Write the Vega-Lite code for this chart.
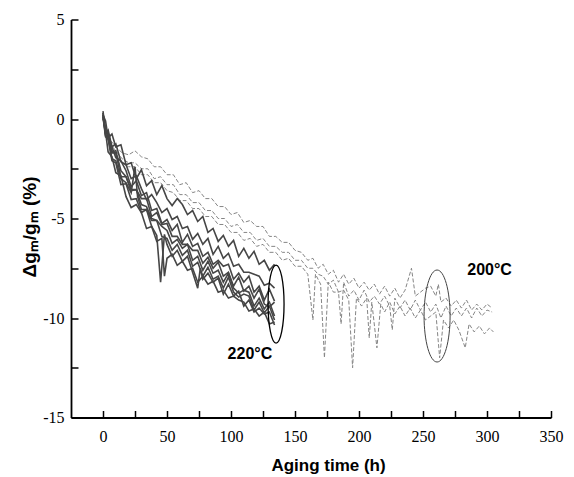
{
 "$schema": "https://vega.github.io/schema/vega-lite/v6.json",
 "width": 480, "height": 398,
 "autosize": {"type": "none"},
 "padding": {"left": 71, "top": 19.5, "right": 23, "bottom": 59.5},
 "background": "white",
 "config": {"view": {"stroke": null}},
 "datasets": {
  "hot": [
   {"s":1,"t":0,"v":0.2},{"s":1,"t":2,"v":-0.1},{"s":1,"t":4,"v":-0.95},{"s":1,"t":7,"v":-0.75},{"s":1,"t":10,"v":-1.4},{"s":1,"t":14,"v":-1.3},{"s":1,"t":18,"v":-2.3},{"s":1,"t":22,"v":-2.2},{"s":1,"t":26,"v":-3.0},{"s":1,"t":30,"v":-2.55},{"s":1,"t":34,"v":-3.35},{"s":1,"t":38,"v":-3.1},{"s":1,"t":42,"v":-3.8},{"s":1,"t":46,"v":-3.35},{"s":1,"t":50,"v":-4.0},{"s":1,"t":54,"v":-4.35},{"s":1,"t":58,"v":-4.0},{"s":1,"t":62,"v":-4.3},{"s":1,"t":66,"v":-4.8},{"s":1,"t":70,"v":-4.6},{"s":1,"t":74,"v":-5.15},{"s":1,"t":78,"v":-4.9},{"s":1,"t":82,"v":-5.7},{"s":1,"t":86,"v":-5.5},{"s":1,"t":90,"v":-6.15},{"s":1,"t":94,"v":-5.85},{"s":1,"t":98,"v":-6.4},{"s":1,"t":102,"v":-6.1},{"s":1,"t":106,"v":-6.9},{"s":1,"t":110,"v":-6.5},{"s":1,"t":114,"v":-7.0},{"s":1,"t":118,"v":-6.65},{"s":1,"t":122,"v":-7.3},{"s":1,"t":126,"v":-7.1},{"s":1,"t":130,"v":-7.6},{"s":1,"t":134,"v":-7.3},
   {"s":2,"t":0,"v":0.3},{"s":2,"t":2,"v":-0.6},{"s":2,"t":4,"v":-0.7},{"s":2,"t":7,"v":-1.4},{"s":2,"t":10,"v":-1.25},{"s":2,"t":14,"v":-2.15},{"s":2,"t":18,"v":-2.3},{"s":2,"t":22,"v":-3.0},{"s":2,"t":26,"v":-2.85},{"s":2,"t":30,"v":-3.5},{"s":2,"t":34,"v":-4.05},{"s":2,"t":38,"v":-3.8},{"s":2,"t":42,"v":-4.2},{"s":2,"t":46,"v":-4.7},{"s":2,"t":50,"v":-4.5},{"s":2,"t":54,"v":-5.05},{"s":2,"t":58,"v":-4.9},{"s":2,"t":62,"v":-5.5},{"s":2,"t":66,"v":-5.4},{"s":2,"t":70,"v":-6.05},{"s":2,"t":74,"v":-5.75},{"s":2,"t":78,"v":-6.3},{"s":2,"t":82,"v":-6.0},{"s":2,"t":86,"v":-6.8},{"s":2,"t":90,"v":-6.4},{"s":2,"t":94,"v":-7.0},{"s":2,"t":98,"v":-6.75},{"s":2,"t":102,"v":-7.4},{"s":2,"t":106,"v":-7.3},{"s":2,"t":110,"v":-7.7},{"s":2,"t":114,"v":-7.7},{"s":2,"t":118,"v":-7.8},{"s":2,"t":122,"v":-7.9},{"s":2,"t":126,"v":-8.35},{"s":2,"t":130,"v":-8.25},{"s":2,"t":134,"v":-8.5},
   {"s":3,"t":0,"v":0.1},{"s":3,"t":2,"v":-0.7},{"s":3,"t":4,"v":-0.55},{"s":3,"t":7,"v":-1.4},{"s":3,"t":10,"v":-1.95},{"s":3,"t":14,"v":-2.1},{"s":3,"t":18,"v":-2.6},{"s":3,"t":22,"v":-3.4},{"s":3,"t":26,"v":-3.1},{"s":3,"t":30,"v":-3.85},{"s":3,"t":34,"v":-3.7},{"s":3,"t":38,"v":-4.6},{"s":3,"t":42,"v":-4.5},{"s":3,"t":46,"v":-5.25},{"s":3,"t":50,"v":-5.05},{"s":3,"t":54,"v":-5.6},{"s":3,"t":58,"v":-5.3},{"s":3,"t":62,"v":-6.2},{"s":3,"t":66,"v":-5.8},{"s":3,"t":70,"v":-6.4},{"s":3,"t":74,"v":-6.25},{"s":3,"t":78,"v":-6.9},{"s":3,"t":82,"v":-6.7},{"s":3,"t":86,"v":-7.3},{"s":3,"t":90,"v":-7.1},{"s":3,"t":94,"v":-7.4},{"s":3,"t":98,"v":-7.3},{"s":3,"t":102,"v":-8.05},{"s":3,"t":106,"v":-7.75},{"s":3,"t":110,"v":-8.2},{"s":3,"t":114,"v":-7.9},{"s":3,"t":118,"v":-8.7},{"s":3,"t":122,"v":-8.4},{"s":3,"t":126,"v":-9.1},{"s":3,"t":130,"v":-8.55},{"s":3,"t":134,"v":-9.15},
   {"s":4,"t":0,"v":0.4},{"s":4,"t":2,"v":-0.7},{"s":4,"t":4,"v":-0.8},{"s":4,"t":7,"v":-1.65},{"s":4,"t":10,"v":-1.6},{"s":4,"t":14,"v":-2.6},{"s":4,"t":18,"v":-2.9},{"s":4,"t":22,"v":-3.55},{"s":4,"t":26,"v":-3.55},{"s":4,"t":30,"v":-4.0},{"s":4,"t":34,"v":-4.0},{"s":4,"t":38,"v":-4.9},{"s":4,"t":42,"v":-4.7},{"s":4,"t":46,"v":-5.3},{"s":4,"t":50,"v":-5.25},{"s":4,"t":54,"v":-5.9},{"s":4,"t":58,"v":-5.9},{"s":4,"t":62,"v":-6.3},{"s":4,"t":66,"v":-6.3},{"s":4,"t":70,"v":-6.6},{"s":4,"t":74,"v":-6.6},{"s":4,"t":78,"v":-7.25},{"s":4,"t":82,"v":-6.95},{"s":4,"t":86,"v":-7.5},{"s":4,"t":90,"v":-7.2},{"s":4,"t":94,"v":-7.9},{"s":4,"t":98,"v":-7.7},{"s":4,"t":102,"v":-8.4},{"s":4,"t":106,"v":-7.95},{"s":4,"t":110,"v":-8.65},{"s":4,"t":114,"v":-8.4},{"s":4,"t":118,"v":-9.0},{"s":4,"t":122,"v":-8.55},{"s":4,"t":126,"v":-9.3},{"s":4,"t":130,"v":-9.45},{"s":4,"t":134,"v":-9.2},
   {"s":5,"t":0,"v":0.2},{"s":5,"t":2,"v":-0.85},{"s":5,"t":4,"v":-0.95},{"s":5,"t":7,"v":-1.7},{"s":5,"t":10,"v":-1.7},{"s":5,"t":14,"v":-2.9},{"s":5,"t":18,"v":-2.9},{"s":5,"t":22,"v":-3.6},{"s":5,"t":26,"v":-3.55},{"s":5,"t":30,"v":-4.3},{"s":5,"t":34,"v":-4.4},{"s":5,"t":38,"v":-5.0},{"s":5,"t":42,"v":-5.1},{"s":5,"t":46,"v":-5.4},{"s":5,"t":50,"v":-5.6},{"s":5,"t":54,"v":-6.25},{"s":5,"t":58,"v":-6.05},{"s":5,"t":62,"v":-6.5},{"s":5,"t":66,"v":-6.3},{"s":5,"t":70,"v":-7.1},{"s":5,"t":74,"v":-6.9},{"s":5,"t":78,"v":-7.6},{"s":5,"t":82,"v":-7.15},{"s":5,"t":86,"v":-7.75},{"s":5,"t":90,"v":-7.6},{"s":5,"t":94,"v":-8.2},{"s":5,"t":98,"v":-7.75},{"s":5,"t":102,"v":-8.5},{"s":5,"t":106,"v":-8.75},{"s":5,"t":110,"v":-8.6},{"s":5,"t":114,"v":-8.7},{"s":5,"t":118,"v":-9.4},{"s":5,"t":122,"v":-9.0},{"s":5,"t":126,"v":-9.55},{"s":5,"t":130,"v":-9.2},{"s":5,"t":134,"v":-9.9},
   {"s":6,"t":0,"v":0.3},{"s":6,"t":2,"v":-0.8},{"s":6,"t":4,"v":-0.95},{"s":6,"t":7,"v":-2.0},{"s":6,"t":10,"v":-2.1},{"s":6,"t":14,"v":-3.0},{"s":6,"t":18,"v":-3.2},{"s":6,"t":22,"v":-3.7},{"s":6,"t":25,"v":-2.4},{"s":6,"t":27,"v":-3.9},{"s":6,"t":30,"v":-4.55},{"s":6,"t":34,"v":-4.55},{"s":6,"t":38,"v":-5.1},{"s":6,"t":42,"v":-5.1},{"s":6,"t":46,"v":-5.9},{"s":6,"t":50,"v":-6.0},{"s":6,"t":54,"v":-6.6},{"s":6,"t":58,"v":-6.3},{"s":6,"t":62,"v":-6.85},{"s":6,"t":66,"v":-6.6},{"s":6,"t":70,"v":-7.4},{"s":6,"t":74,"v":-7.2},{"s":6,"t":78,"v":-7.9},{"s":6,"t":82,"v":-7.45},{"s":6,"t":86,"v":-8.05},{"s":6,"t":90,"v":-7.9},{"s":6,"t":94,"v":-8.5},{"s":6,"t":98,"v":-7.95},{"s":6,"t":102,"v":-8.7},{"s":6,"t":106,"v":-8.95},{"s":6,"t":110,"v":-8.8},{"s":6,"t":114,"v":-8.9},{"s":6,"t":118,"v":-9.6},{"s":6,"t":122,"v":-9.2},{"s":6,"t":126,"v":-9.75},{"s":6,"t":130,"v":-9.4},{"s":6,"t":134,"v":-10.1},
   {"s":7,"t":0,"v":0.1},{"s":7,"t":2,"v":-0.9},{"s":7,"t":4,"v":-1.0},{"s":7,"t":7,"v":-2.1},{"s":7,"t":10,"v":-2.2},{"s":7,"t":14,"v":-3.3},{"s":7,"t":18,"v":-3.25},{"s":7,"t":22,"v":-4.05},{"s":7,"t":26,"v":-4.0},{"s":7,"t":30,"v":-4.7},{"s":7,"t":34,"v":-4.55},{"s":7,"t":38,"v":-5.4},{"s":7,"t":42,"v":-5.85},{"s":7,"t":45,"v":-8.2},{"s":7,"t":48,"v":-5.8},{"s":7,"t":50,"v":-6.3},{"s":7,"t":54,"v":-6.9},{"s":7,"t":58,"v":-6.6},{"s":7,"t":62,"v":-7.15},{"s":7,"t":66,"v":-6.9},{"s":7,"t":70,"v":-7.7},{"s":7,"t":74,"v":-8.5},{"s":7,"t":76,"v":-7.5},{"s":7,"t":78,"v":-8.05},{"s":7,"t":82,"v":-7.75},{"s":7,"t":86,"v":-8.2},{"s":7,"t":90,"v":-8.0},{"s":7,"t":94,"v":-8.8},{"s":7,"t":98,"v":-8.3},{"s":7,"t":102,"v":-8.9},{"s":7,"t":106,"v":-8.65},{"s":7,"t":110,"v":-9.4},{"s":7,"t":114,"v":-9.1},{"s":7,"t":118,"v":-9.7},{"s":7,"t":122,"v":-9.5},{"s":7,"t":126,"v":-9.8},{"s":7,"t":130,"v":-9.7},{"s":7,"t":134,"v":-10.35},
   {"s":8,"t":0,"v":0.2},{"s":8,"t":2,"v":-0.65},{"s":8,"t":4,"v":-1.65},{"s":8,"t":7,"v":-1.9},{"s":8,"t":10,"v":-2.7},{"s":8,"t":14,"v":-2.85},{"s":8,"t":18,"v":-3.9},{"s":8,"t":22,"v":-4.45},{"s":8,"t":26,"v":-4.3},{"s":8,"t":30,"v":-4.7},{"s":8,"t":34,"v":-5.5},{"s":8,"t":38,"v":-5.4},{"s":8,"t":42,"v":-6.15},{"s":8,"t":46,"v":-6.0},{"s":8,"t":48,"v":-7.9},{"s":8,"t":50,"v":-7.0},{"s":8,"t":54,"v":-6.8},{"s":8,"t":58,"v":-7.35},{"s":8,"t":62,"v":-7.15},{"s":8,"t":66,"v":-7.6},{"s":8,"t":70,"v":-7.5},{"s":8,"t":74,"v":-8.2},{"s":8,"t":78,"v":-7.9},{"s":8,"t":82,"v":-8.3},{"s":8,"t":86,"v":-8.15},{"s":8,"t":90,"v":-8.7},{"s":8,"t":94,"v":-8.6},{"s":8,"t":98,"v":-9.0},{"s":8,"t":102,"v":-8.9},{"s":8,"t":106,"v":-9.1},{"s":8,"t":110,"v":-9.2},{"s":8,"t":114,"v":-9.65},{"s":8,"t":118,"v":-9.55},{"s":8,"t":122,"v":-9.9},{"s":8,"t":126,"v":-9.7},{"s":8,"t":130,"v":-10.3},{"s":8,"t":134,"v":-10.2}
  ],
  "warm": [
   {"s":1,"t":0,"v":0},{"s":1,"t":5,"v":-1.0},{"s":1,"t":10,"v":-1.4},{"s":1,"t":15,"v":-1.7},{"s":1,"t":20,"v":-1.8},{"s":1,"t":25,"v":-1.6},{"s":1,"t":30,"v":-1.9},{"s":1,"t":35,"v":-2.0},{"s":1,"t":40,"v":-2.4},{"s":1,"t":45,"v":-2.4},{"s":1,"t":50,"v":-2.8},{"s":1,"t":55,"v":-2.8},{"s":1,"t":60,"v":-3.3},{"s":1,"t":65,"v":-3.2},{"s":1,"t":70,"v":-3.7},{"s":1,"t":75,"v":-3.6},{"s":1,"t":80,"v":-4.0},{"s":1,"t":85,"v":-4.0},{"s":1,"t":90,"v":-4.4},{"s":1,"t":95,"v":-4.4},{"s":1,"t":100,"v":-4.8},{"s":1,"t":105,"v":-4.7},{"s":1,"t":110,"v":-5.2},{"s":1,"t":115,"v":-5.1},{"s":1,"t":120,"v":-5.4},{"s":1,"t":125,"v":-5.4},{"s":1,"t":130,"v":-5.9},{"s":1,"t":135,"v":-5.9},{"s":1,"t":140,"v":-6.2},{"s":1,"t":145,"v":-6.2},{"s":1,"t":150,"v":-6.6},{"s":1,"t":155,"v":-6.7},{"s":1,"t":160,"v":-7.1},{"s":1,"t":164,"v":-7.0},{"s":1,"t":168,"v":-7.5},{"s":1,"t":172,"v":-7.3},{"s":1,"t":176,"v":-7.8},{"s":1,"t":180,"v":-7.6},{"s":1,"t":184,"v":-8.2},{"s":1,"t":188,"v":-7.8},{"s":1,"t":192,"v":-8.3},{"s":1,"t":196,"v":-8.0},{"s":1,"t":200,"v":-8.5},{"s":1,"t":204,"v":-8.2},{"s":1,"t":208,"v":-8.6},{"s":1,"t":212,"v":-8.3},{"s":1,"t":216,"v":-8.8},{"s":1,"t":220,"v":-8.4},{"s":1,"t":224,"v":-8.9},{"s":1,"t":228,"v":-8.5},{"s":1,"t":232,"v":-9.0},{"s":1,"t":236,"v":-8.6},{"s":1,"t":241,"v":-7.5},{"s":1,"t":244,"v":-8.9},{"s":1,"t":248,"v":-8.7},{"s":1,"t":252,"v":-8.5},{"s":1,"t":256,"v":-8.4},{"s":1,"t":260,"v":-8.9},{"s":1,"t":262,"v":-8.3},{"s":1,"t":264,"v":-9.2},{"s":1,"t":268,"v":-9.0},{"s":1,"t":272,"v":-9.4},{"s":1,"t":276,"v":-9.1},{"s":1,"t":280,"v":-9.5},{"s":1,"t":284,"v":-9.1},{"s":1,"t":288,"v":-9.6},{"s":1,"t":292,"v":-9.3},{"s":1,"t":296,"v":-9.6},{"s":1,"t":300,"v":-9.3},{"s":1,"t":304,"v":-9.5},
   {"s":2,"t":0,"v":0},{"s":2,"t":5,"v":-1.3},{"s":2,"t":10,"v":-1.8},{"s":2,"t":15,"v":-2.2},{"s":2,"t":20,"v":-2.4},{"s":2,"t":25,"v":-2.4},{"s":2,"t":30,"v":-2.8},{"s":2,"t":35,"v":-2.8},{"s":2,"t":40,"v":-3.2},{"s":2,"t":45,"v":-3.2},{"s":2,"t":50,"v":-3.6},{"s":2,"t":55,"v":-3.7},{"s":2,"t":60,"v":-4.1},{"s":2,"t":65,"v":-4.1},{"s":2,"t":70,"v":-4.5},{"s":2,"t":75,"v":-4.5},{"s":2,"t":80,"v":-4.9},{"s":2,"t":85,"v":-4.9},{"s":2,"t":90,"v":-5.3},{"s":2,"t":95,"v":-5.3},{"s":2,"t":100,"v":-5.7},{"s":2,"t":105,"v":-5.7},{"s":2,"t":110,"v":-6.1},{"s":2,"t":115,"v":-6.0},{"s":2,"t":120,"v":-6.4},{"s":2,"t":125,"v":-6.3},{"s":2,"t":130,"v":-6.7},{"s":2,"t":135,"v":-6.7},{"s":2,"t":140,"v":-7.1},{"s":2,"t":145,"v":-7.0},{"s":2,"t":150,"v":-7.4},{"s":2,"t":155,"v":-7.4},{"s":2,"t":160,"v":-7.8},{"s":2,"t":164,"v":-10.1},{"s":2,"t":166,"v":-7.8},{"s":2,"t":170,"v":-8.3},{"s":2,"t":173,"v":-12.0},{"s":2,"t":176,"v":-8.2},{"s":2,"t":180,"v":-8.7},{"s":2,"t":184,"v":-8.7},{"s":2,"t":188,"v":-8.6},{"s":2,"t":192,"v":-9.1},{"s":2,"t":195,"v":-12.5},{"s":2,"t":198,"v":-9.0},{"s":2,"t":202,"v":-9.4},{"s":2,"t":206,"v":-9.0},{"s":2,"t":208,"v":-11.0},{"s":2,"t":210,"v":-9.2},{"s":2,"t":214,"v":-11.5},{"s":2,"t":217,"v":-9.3},{"s":2,"t":220,"v":-9.7},{"s":2,"t":224,"v":-9.2},{"s":2,"t":228,"v":-9.8},{"s":2,"t":232,"v":-9.4},{"s":2,"t":236,"v":-9.9},{"s":2,"t":240,"v":-9.5},{"s":2,"t":244,"v":-10.0},{"s":2,"t":248,"v":-9.6},{"s":2,"t":252,"v":-10.1},{"s":2,"t":256,"v":-9.9},{"s":2,"t":260,"v":-9.7},{"s":2,"t":263,"v":-12.0},{"s":2,"t":266,"v":-10.1},{"s":2,"t":270,"v":-10.5},{"s":2,"t":274,"v":-10.1},{"s":2,"t":278,"v":-10.6},{"s":2,"t":283,"v":-11.5},{"s":2,"t":286,"v":-10.3},{"s":2,"t":290,"v":-10.7},{"s":2,"t":294,"v":-10.4},{"s":2,"t":298,"v":-10.8},{"s":2,"t":302,"v":-10.5},{"s":2,"t":305,"v":-10.7},
   {"s":3,"t":0,"v":0},{"s":3,"t":5,"v":-1.2},{"s":3,"t":10,"v":-1.6},{"s":3,"t":15,"v":-2.0},{"s":3,"t":20,"v":-2.2},{"s":3,"t":25,"v":-2.2},{"s":3,"t":30,"v":-2.5},{"s":3,"t":35,"v":-2.5},{"s":3,"t":40,"v":-3.0},{"s":3,"t":45,"v":-2.9},{"s":3,"t":50,"v":-3.3},{"s":3,"t":55,"v":-3.3},{"s":3,"t":60,"v":-3.8},{"s":3,"t":65,"v":-3.8},{"s":3,"t":70,"v":-4.2},{"s":3,"t":75,"v":-4.2},{"s":3,"t":80,"v":-4.6},{"s":3,"t":85,"v":-4.6},{"s":3,"t":90,"v":-5.0},{"s":3,"t":95,"v":-5.0},{"s":3,"t":100,"v":-5.4},{"s":3,"t":105,"v":-5.3},{"s":3,"t":110,"v":-5.7},{"s":3,"t":115,"v":-5.7},{"s":3,"t":120,"v":-6.1},{"s":3,"t":125,"v":-6.0},{"s":3,"t":130,"v":-6.4},{"s":3,"t":135,"v":-6.4},{"s":3,"t":140,"v":-6.7},{"s":3,"t":145,"v":-6.7},{"s":3,"t":150,"v":-7.1},{"s":3,"t":155,"v":-7.1},{"s":3,"t":160,"v":-7.5},{"s":3,"t":164,"v":-7.5},{"s":3,"t":168,"v":-7.8},{"s":3,"t":172,"v":-7.9},{"s":3,"t":176,"v":-8.3},{"s":3,"t":180,"v":-8.1},{"s":3,"t":184,"v":-8.7},{"s":3,"t":186,"v":-10.3},{"s":3,"t":188,"v":-8.2},{"s":3,"t":192,"v":-8.9},{"s":3,"t":196,"v":-8.6},{"s":3,"t":200,"v":-9.1},{"s":3,"t":204,"v":-8.6},{"s":3,"t":208,"v":-9.2},{"s":3,"t":212,"v":-8.9},{"s":3,"t":216,"v":-9.3},{"s":3,"t":220,"v":-8.9},{"s":3,"t":224,"v":-9.4},{"s":3,"t":226,"v":-10.6},{"s":3,"t":228,"v":-9.0},{"s":3,"t":232,"v":-9.5},{"s":3,"t":236,"v":-9.1},{"s":3,"t":240,"v":-9.6},{"s":3,"t":244,"v":-9.1},{"s":3,"t":248,"v":-9.6},{"s":3,"t":252,"v":-9.2},{"s":3,"t":256,"v":-9.7},{"s":3,"t":260,"v":-9.3},{"s":3,"t":264,"v":-10.0},{"s":3,"t":268,"v":-9.4},{"s":3,"t":272,"v":-9.9},{"s":3,"t":276,"v":-9.5},{"s":3,"t":280,"v":-9.9},{"s":3,"t":284,"v":-9.5},{"s":3,"t":288,"v":-10.0},{"s":3,"t":292,"v":-9.5},{"s":3,"t":296,"v":-9.9},{"s":3,"t":300,"v":-9.6},{"s":3,"t":304,"v":-9.7}
  ],
  "ringA": [{"t": 135.2, "v": -9.3}],
  "ringB": [{"t": 261, "v": -9.9}],
  "lbl": [{"t": 114.8, "v": -11.8, "txt": "220°C"}, {"t": 302, "v": -7.6, "txt": "200°C"}]
 },
 "encoding": {
  "x": {"field": "t", "type": "quantitative",
   "scale": {"domain": [-25, 350], "nice": false, "zero": false},
   "axis": {"title": "Aging time (h)", "values": [0,25,50,75,100,125,150,175,200,225,250,275,300,325,350],
    "labelExpr": "datum.value % 50 === 0 ? '' + datum.value : ''",
    "tickSize": -7,
    "grid": false, "domainColor": "black", "domainWidth": 1.8, "tickColor": "black", "tickWidth": 1.5,
    "labelFont": "Liberation Sans Narrow", "labelFontSize": 16, "labelColor": "black", "labelPadding": 17.5,
    "labelFlush": false, "labelOverlap": false,
    "titleFont": "Liberation Sans", "titleFontWeight": "bold", "titleFontSize": 17, "titleColor": "black",
    "titleX": 257, "titleY": 53, "titleBaseline": "alphabetic", "titleAlign": "center"}},
  "y": {"field": "v", "type": "quantitative",
   "scale": {"domain": [-15, 5], "nice": false, "zero": false},
   "axis": {"title": "Δgₘ/gₘ (%)", "values": [-15,-12.5,-10,-7.5,-5,-2.5,0,2.5,5],
    "labelExpr": "datum.value % 5 === 0 ? '' + datum.value : ''",
    "tickSize": -7,
    "grid": false, "domainColor": "black", "domainWidth": 1.8, "tickColor": "black", "tickWidth": 1.5,
    "labelFont": "Liberation Sans Narrow", "labelFontSize": 16, "labelColor": "black", "labelPadding": 14,
    "labelFlush": false, "labelOverlap": false, "labelBaseline": "middle",
    "titleFont": "Liberation Sans", "titleFontWeight": "bold", "titleFontSize": 19, "titleColor": "black",
    "titleAngle": -90, "titleX": -36, "titleY": 207, "titleBaseline": "alphabetic", "titleAlign": "center"}}
 },
 "layer": [
  {"data": {"name": "warm"}, "mark": {"type": "line", "color": "#858585", "strokeWidth": 1, "strokeDash": [4, 2]},
   "encoding": {"detail": {"field": "s", "type": "nominal"}}},
  {"data": {"name": "hot"}, "mark": {"type": "line", "color": "#464646", "strokeWidth": 1.6},
   "encoding": {"detail": {"field": "s", "type": "nominal"}}},
  {"data": {"name": "ringA"}, "mark": {"type": "point", "shape": "M0,-1A0.205,1,0,1,1,0,1A0.205,1,0,1,1,0,-1Z", "size": 6084, "filled": false, "stroke": "black", "strokeWidth": 1.3, "opacity": 1}},
  {"data": {"name": "ringB"}, "mark": {"type": "point", "shape": "M0,-1A0.283,1,0,1,1,0,1A0.283,1,0,1,1,0,-1Z", "size": 8464, "filled": false, "stroke": "#444444", "strokeWidth": 1, "opacity": 1}},
  {"data": {"name": "lbl"}, "mark": {"type": "text", "font": "Liberation Sans", "fontWeight": "bold", "fontSize": 16, "color": "black"},
   "encoding": {"text": {"field": "txt"}}}
 ]
}
